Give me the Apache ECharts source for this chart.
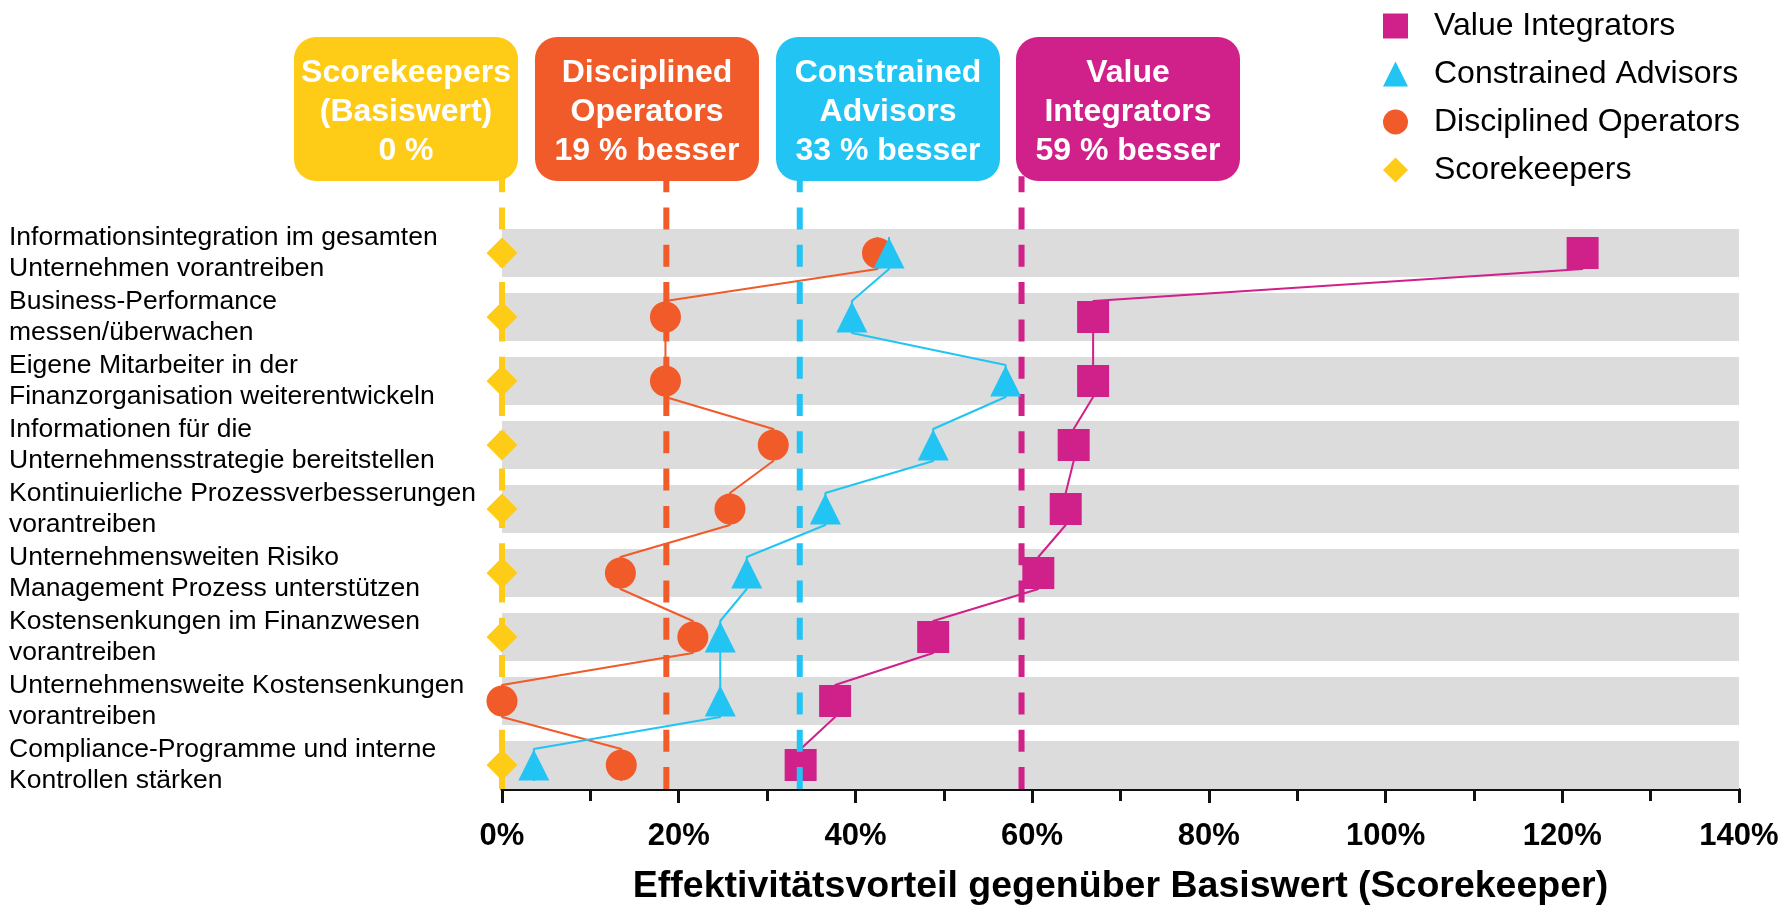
<!DOCTYPE html>
<html>
<head>
<meta charset="utf-8">
<title>Effektivitätsvorteil gegenüber Basiswert</title>
<script src="https://cdn.jsdelivr.net/npm/echarts@6.0.0/dist/echarts.min.js"></script>
<style>
  html, body { margin: 0; padding: 0; background: #fff; }
  #chart { width: 1790px; height: 906px; }
</style>
</head>
<body>
<div id="chart"></div>
<script>
// Kategorien (von oben nach unten)
const categories = [
  'Informationsintegration im gesamten\nUnternehmen vorantreiben',
  'Business-Performance\nmessen/überwachen',
  'Eigene Mitarbeiter in der\nFinanzorganisation weiterentwickeln',
  'Informationen für die\nUnternehmensstrategie bereitstellen',
  'Kontinuierliche Prozessverbesserungen\nvorantreiben',
  'Unternehmensweiten Risiko\nManagement Prozess unterstützen',
  'Kostensenkungen im Finanzwesen\nvorantreiben',
  'Unternehmensweite Kostensenkungen\nvorantreiben',
  'Compliance-Programme und interne\nKontrollen stärken'
]

// Werte in % (gelesen aus der Vorlage)
const scorekeepers = [0, 0, 0, 0, 0, 0, 0, 0, 0]
const disciplinedOperators = [42.5, 18.5, 18.5, 30.7, 25.8, 13.4, 21.6, 0, 13.5]
const constrainedAdvisors = [43.8, 39.6, 57.0, 48.8, 36.6, 27.7, 24.7, 24.7, 3.6]
const valueIntegrators = [122.3, 66.9, 66.9, 64.7, 63.8, 60.7, 48.8, 37.7, 33.8]

// Durchschnittlicher Vorteil je Gruppe (gestrichelte Linien)
const groupAverages = [0, 18.6, 33.7, 58.8]
const groupNames = ['Scorekeepers', 'Disciplined Operators', 'Constrained Advisors', 'Value Integrators']
const boxTexts = [
  'Scorekeepers\n(Basiswert)\n0 %',
  'Disciplined\nOperators\n19 % besser',
  'Constrained\nAdvisors\n33 % besser',
  'Value\nIntegrators\n59 % besser'
]
const legendNames = ['Value Integrators', 'Constrained Advisors', 'Disciplined Operators', 'Scorekeepers']
const legendIcons = ['rect', 'triangle', 'circle', 'diamond']

// x-Achse
const xMin = 0
const xMax = 140
const xStep = 20
const axisName = 'Effektivitätsvorteil gegenüber Basiswert (Scorekeeper)'

const colors = ['#FECB17', '#F15A29', '#21C4F3', '#D0208A']
const font = '"Liberation Sans", Arial, sans-serif'

// y-Raum: Zeile i liegt bei y = i
const yTop = -2
const yBottom = 8.375
const lineTop = -1.2
const markerEdge = 0.25 // Verbindungslinie setzt am oberen/unteren Rand des Markers an

const chart = echarts.init(document.getElementById('chart'))

// Verbindungslinie: unten am Marker -> oben am nächsten Marker
const connector = (values) => values.flatMap((v, i) => [[v, i - markerEdge], [v, i + markerEdge]])
const points = (values) => values.map((v, i) => [v, i])

const scatter = (name, values, symbol, size, color, z) => ({
  name: name,
  type: 'scatter',
  data: points(values),
  symbol: symbol,
  symbolSize: size,
  itemStyle: { color: color, opacity: 1 },
  z: z,
  silent: true
})

const connectorLine = (name, values, color, z) => ({
  name: name,
  type: 'line',
  data: connector(values),
  symbol: 'none',
  lineStyle: { color: color, width: 2 },
  itemStyle: { color: color },
  z: z,
  silent: true
})

const dashedLines = groupAverages.map((v, i) => ({
  type: 'line',
  data: [[v, yBottom], [v, lineTop]],
  symbol: 'none',
  lineStyle: { color: colors[i], width: 6, type: [22, 15.3] },
  z: 4,
  silent: true
}))

const option = {
  animation: false,
  backgroundColor: '#fff',
  grid: {
    left: 502,
    right: 51,
    top: 125,
    bottom: 117,
    containLabel: false,
    outerBoundsMode: 'none'
  },
  legend: {
    orient: 'vertical',
    left: 1378,
    top: 5,
    itemWidth: 25,
    itemHeight: 25,
    itemGap: 16,
    selectedMode: false,
    data: legendNames.map((n, i) => ({ name: n, icon: legendIcons[i] })),
    textStyle: { fontSize: 32, color: '#000', fontFamily: font, padding: [0, 0, 0, 21] }
  },
  xAxis: {
    type: 'value',
    min: xMin,
    max: xMax,
    interval: xStep,
    axisLine: { show: true, onZero: false, lineStyle: { color: '#111', width: 3 } },
    axisTick: { show: true, length: 14, lineStyle: { color: '#111', width: 3 } },
    minorTick: { show: true, splitNumber: 2, length: 12, lineStyle: { color: '#111', width: 3 } },
    splitLine: { show: false },
    minorSplitLine: { show: false },
    axisLabel: {
      formatter: '{value}%',
      fontSize: 31,
      fontWeight: 'bold',
      color: '#000',
      fontFamily: font,
      margin: 32
    },
    name: axisName,
    nameLocation: 'middle',
    nameGap: 79,
    nameTextStyle: { fontSize: 37.5, fontWeight: 'bold', color: '#000', fontFamily: font }
  },
  yAxis: {
    type: 'value',
    inverse: true,
    min: yTop,
    max: yBottom,
    interval: 1,
    axisLine: { show: false },
    axisTick: { show: false },
    splitLine: { show: false },
    axisLabel: {
      formatter: (v) => {
        const i = Math.round(v)
        return Math.abs(v - i) < 1e-6 && i >= 0 && i < categories.length ? categories[i] : ''
      },
      align: 'left',
      margin: 493,
      fontSize: 26.5,
      lineHeight: 31,
      color: '#000',
      fontFamily: font
    }
  },
  graphic: boxTexts.map((t, i) => ({
    type: 'group',
    left: [294, 535, 776, 1016][i],
    top: 37,
    z: 100,
    children: [
      {
        type: 'rect',
        shape: { x: 0, y: 0, width: 224, height: 144, r: 22 },
        style: { fill: colors[i] }
      },
      {
        type: 'text',
        x: 112,
        y: 75,
        style: {
          text: t,
          fill: '#fff',
          fontSize: 32,
          fontWeight: 'bold',
          fontFamily: font,
          lineHeight: 39,
          align: 'center',
          verticalAlign: 'middle'
        }
      }
    ]
  })),
  series: [
    // graue Balken je Kategorie
    {
      type: 'custom',
      silent: true,
      z: 1,
      data: categories.map((c, i) => [xMax, i]),
      renderItem: (params, api) => {
        const row = api.value(1)
        const p0 = api.coord([xMin, row - 0.375])
        const p1 = api.coord([api.value(0), row + 0.375])
        return {
          type: 'rect',
          shape: { x: p0[0], y: p0[1], width: p1[0] - p0[0], height: p1[1] - p0[1] },
          style: { fill: '#DCDCDC' }
        }
      }
    },
    scatter('Value Integrators', valueIntegrators, 'rect', 32, colors[3], 3),
    connectorLine('Value Integrators', valueIntegrators, colors[3], 2),
    ...dashedLines,
    scatter('Scorekeepers', scorekeepers, 'diamond', 31, colors[0], 5),
    scatter('Disciplined Operators', disciplinedOperators, 'circle', 31, colors[1], 7),
    connectorLine('Disciplined Operators', disciplinedOperators, colors[1], 6),
    scatter('Constrained Advisors', constrainedAdvisors, 'triangle', 31, colors[2], 9),
    connectorLine('Constrained Advisors', constrainedAdvisors, colors[2], 8)
  ]
}

chart.setOption(option)
</script>
</body>
</html>
